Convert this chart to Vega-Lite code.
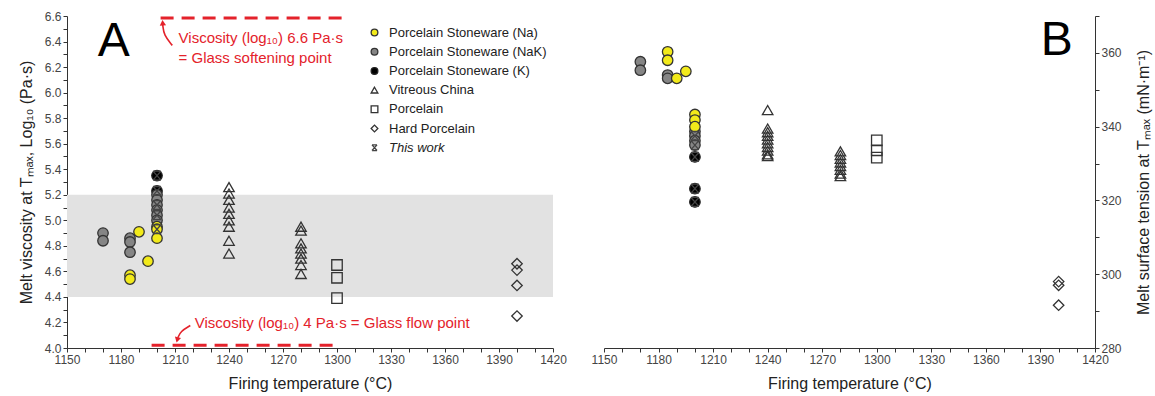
{
  "$schema": "https://vega.github.io/schema/vega-lite/v6.json",
  "padding": {"left": 18, "top": 10, "right": 2, "bottom": 5},
  "bounds": "flush",
  "spacing": 51,
  "background": "white",
  "config": {
    "view": {"stroke": null},
    "font": "Liberation Sans",
    "axis": {
      "grid": false,
      "labelFlush": false,
      "domainColor": "#333",
      "tickColor": "#333",
      "tickSize": 4,
      "labelColor": "#444",
      "labelFont": "Liberation Sans",
      "labelFontSize": 12,
      "titleFont": "Liberation Sans",
      "titleFontSize": 16,
      "titleFontWeight": "normal",
      "titleColor": "#222"
    }
  },
  "datasets": {
    "visc": [
      {"t": 1240, "v": 5.26, "type": "Vitreous China"},
      {"t": 1240, "v": 5.21, "type": "Vitreous China"},
      {"t": 1240, "v": 5.16, "type": "Vitreous China"},
      {"t": 1240, "v": 5.10, "type": "Vitreous China"},
      {"t": 1240, "v": 5.05, "type": "Vitreous China"},
      {"t": 1240, "v": 5.00, "type": "Vitreous China"},
      {"t": 1240, "v": 4.95, "type": "Vitreous China"},
      {"t": 1240, "v": 4.84, "type": "Vitreous China"},
      {"t": 1240, "v": 4.74, "type": "Vitreous China"},
      {"t": 1280, "v": 4.95, "type": "Vitreous China"},
      {"t": 1280, "v": 4.92, "type": "Vitreous China"},
      {"t": 1280, "v": 4.82, "type": "Vitreous China"},
      {"t": 1280, "v": 4.78, "type": "Vitreous China"},
      {"t": 1280, "v": 4.74, "type": "Vitreous China"},
      {"t": 1280, "v": 4.70, "type": "Vitreous China"},
      {"t": 1280, "v": 4.65, "type": "Vitreous China"},
      {"t": 1280, "v": 4.58, "type": "Vitreous China"},
      {"t": 1300, "v": 4.65, "type": "Porcelain"},
      {"t": 1300, "v": 4.55, "type": "Porcelain"},
      {"t": 1300, "v": 4.39, "type": "Porcelain"},
      {"t": 1400, "v": 4.66, "type": "Hard Porcelain"},
      {"t": 1400, "v": 4.61, "type": "Hard Porcelain"},
      {"t": 1400, "v": 4.49, "type": "Hard Porcelain"},
      {"t": 1400, "v": 4.25, "type": "Hard Porcelain"},
      {"t": 1185, "v": 4.57, "type": "Porcelain Stoneware (Na)"},
      {"t": 1185, "v": 4.54, "type": "Porcelain Stoneware (Na)"},
      {"t": 1170, "v": 4.90, "type": "Porcelain Stoneware (NaK)"},
      {"t": 1170, "v": 4.84, "type": "Porcelain Stoneware (NaK)"},
      {"t": 1185, "v": 4.86, "type": "Porcelain Stoneware (NaK)"},
      {"t": 1185, "v": 4.83, "type": "Porcelain Stoneware (NaK)"},
      {"t": 1185, "v": 4.75, "type": "Porcelain Stoneware (NaK)"},
      {"t": 1190, "v": 4.91, "type": "Porcelain Stoneware (Na)"},
      {"t": 1195, "v": 4.68, "type": "Porcelain Stoneware (Na)"},
      {"t": 1200, "v": 5.35, "type": "Porcelain Stoneware (K)"},
      {"t": 1200, "v": 5.23, "type": "Porcelain Stoneware (K)"},
      {"t": 1200, "v": 5.20, "type": "Porcelain Stoneware (NaK)"},
      {"t": 1200, "v": 5.16, "type": "Porcelain Stoneware (NaK)"},
      {"t": 1200, "v": 5.12, "type": "Porcelain Stoneware (NaK)"},
      {"t": 1200, "v": 5.08, "type": "Porcelain Stoneware (NaK)"},
      {"t": 1200, "v": 5.04, "type": "Porcelain Stoneware (NaK)"},
      {"t": 1200, "v": 5.00, "type": "Porcelain Stoneware (NaK)"},
      {"t": 1200, "v": 4.95, "type": "Porcelain Stoneware (Na)"},
      {"t": 1200, "v": 4.93, "type": "Porcelain Stoneware (Na)"},
      {"t": 1200, "v": 4.86, "type": "Porcelain Stoneware (Na)"},
      {"t": 1200, "v": 5.35, "type": "This work"},
      {"t": 1200, "v": 5.23, "type": "This work"},
      {"t": 1200, "v": 5.12, "type": "This work"},
      {"t": 1200, "v": 5.04, "type": "This work"},
      {"t": 1200, "v": 4.93, "type": "This work"}
    ],
    "surf": [
      {"t": 1240, "v": 344.5, "type": "Vitreous China"},
      {"t": 1240, "v": 339.5, "type": "Vitreous China"},
      {"t": 1240, "v": 338.5, "type": "Vitreous China"},
      {"t": 1240, "v": 337.5, "type": "Vitreous China"},
      {"t": 1240, "v": 336.5, "type": "Vitreous China"},
      {"t": 1240, "v": 335.5, "type": "Vitreous China"},
      {"t": 1240, "v": 334.5, "type": "Vitreous China"},
      {"t": 1240, "v": 333.5, "type": "Vitreous China"},
      {"t": 1240, "v": 332.5, "type": "Vitreous China"},
      {"t": 1240, "v": 332.0, "type": "Vitreous China"},
      {"t": 1280, "v": 333.3, "type": "Vitreous China"},
      {"t": 1280, "v": 332.3, "type": "Vitreous China"},
      {"t": 1280, "v": 331.3, "type": "Vitreous China"},
      {"t": 1280, "v": 330.3, "type": "Vitreous China"},
      {"t": 1280, "v": 329.3, "type": "Vitreous China"},
      {"t": 1280, "v": 328.3, "type": "Vitreous China"},
      {"t": 1280, "v": 327.3, "type": "Vitreous China"},
      {"t": 1280, "v": 326.6, "type": "Vitreous China"},
      {"t": 1300, "v": 336.3, "type": "Porcelain"},
      {"t": 1300, "v": 333.6, "type": "Porcelain"},
      {"t": 1300, "v": 331.6, "type": "Porcelain"},
      {"t": 1400, "v": 298.0, "type": "Hard Porcelain"},
      {"t": 1400, "v": 297.0, "type": "Hard Porcelain"},
      {"t": 1400, "v": 291.6, "type": "Hard Porcelain"},
      {"t": 1170, "v": 357.6, "type": "Porcelain Stoneware (NaK)"},
      {"t": 1170, "v": 355.3, "type": "Porcelain Stoneware (NaK)"},
      {"t": 1185, "v": 354.0, "type": "Porcelain Stoneware (NaK)"},
      {"t": 1185, "v": 353.1, "type": "Porcelain Stoneware (NaK)"},
      {"t": 1185, "v": 360.3, "type": "Porcelain Stoneware (Na)"},
      {"t": 1185, "v": 358.0, "type": "Porcelain Stoneware (Na)"},
      {"t": 1190, "v": 353.1, "type": "Porcelain Stoneware (Na)"},
      {"t": 1195, "v": 355.0, "type": "Porcelain Stoneware (Na)"},
      {"t": 1200, "v": 338.7, "type": "Porcelain Stoneware (NaK)"},
      {"t": 1200, "v": 337.5, "type": "Porcelain Stoneware (NaK)"},
      {"t": 1200, "v": 336.2, "type": "Porcelain Stoneware (NaK)"},
      {"t": 1200, "v": 335.0, "type": "Porcelain Stoneware (NaK)"},
      {"t": 1200, "v": 343.3, "type": "Porcelain Stoneware (Na)"},
      {"t": 1200, "v": 341.8, "type": "Porcelain Stoneware (Na)"},
      {"t": 1200, "v": 340.0, "type": "Porcelain Stoneware (Na)"},
      {"t": 1200, "v": 331.8, "type": "Porcelain Stoneware (K)"},
      {"t": 1200, "v": 323.2, "type": "Porcelain Stoneware (K)"},
      {"t": 1200, "v": 319.6, "type": "Porcelain Stoneware (K)"},
      {"t": 1200, "v": 337.5, "type": "This work"},
      {"t": 1200, "v": 335.0, "type": "This work"},
      {"t": 1200, "v": 331.8, "type": "This work"},
      {"t": 1200, "v": 323.2, "type": "This work"},
      {"t": 1200, "v": 319.6, "type": "This work"}
    ]
  },
  "resolve": {"scale": {"shape": "independent", "fill": "independent", "stroke": "independent"}, "legend": {"shape": "independent", "fill": "independent", "stroke": "independent"}},
  "hconcat": [
    {
      "width": 486,
      "height": 332,
      "encoding": {
        "x": {
          "field": "t", "type": "quantitative",
          "scale": {"domain": [1150, 1420], "nice": false, "zero": false},
          "axis": {
            "title": "Firing temperature (°C)",
            "values": [1150,1160,1170,1180,1190,1200,1210,1220,1230,1240,1250,1260,1270,1280,1290,1300,1310,1320,1330,1340,1350,1360,1370,1380,1390,1400,1410,1420],
            "labelExpr": "(datum.value - 1150) % 30 == 0 ? datum.value : ''",
            "titlePadding": 10
          }
        },
        "y": {
          "field": "v", "type": "quantitative",
          "scale": {"domain": [4.0, 6.6], "nice": false, "zero": false},
          "axis": {
            "title": "Melt viscosity at Tₘₐₓ, Log₁₀ (Pa·s)",
            "values": [4.0,4.1,4.2,4.3,4.4,4.5,4.6,4.7,4.8,4.9,5.0,5.1,5.2,5.3,5.4,5.5,5.6,5.7,5.8,5.9,6.0,6.1,6.2,6.3,6.4,6.5,6.6],
            "labelExpr": "round(datum.value * 10) % 2 == 0 ? format(datum.value, '.1f') : ''",
            "titlePadding": 10
          }
        }
      },
      "layer": [
        {
          "data": {"values": [{"t": 1150, "t2": 1420, "v": 4.4, "v2": 5.2}]},
          "mark": {"type": "rect", "fill": "#e2e2e2"},
          "encoding": {"x2": {"field": "t2"}, "y2": {"field": "v2"}}
        },
        {
          "data": {"values": [
            {"g": "top", "t": 1202, "v": 6.585},
            {"g": "top", "t": 1305, "v": 6.585},
            {"g": "bottom", "t": 1197, "v": 4.022},
            {"g": "bottom", "t": 1300, "v": 4.022}
          ]},
          "mark": {"type": "line", "color": "#e4222b", "strokeWidth": 3, "strokeDash": [13, 8]},
          "encoding": {"detail": {"field": "g"}}
        },
        {
          "data": {"values": [
            {"g": "a1", "o": 1, "t": 1208.5, "v": 6.37},
            {"g": "a1", "o": 2, "t": 1203.8, "v": 6.45},
            {"g": "a1", "o": 3, "t": 1203.2, "v": 6.53},
            {"g": "a2", "o": 1, "t": 1218.5, "v": 4.176},
            {"g": "a2", "o": 2, "t": 1213.0, "v": 4.13},
            {"g": "a2", "o": 3, "t": 1211.6, "v": 4.08}
          ]},
          "mark": {"type": "line", "color": "#e4222b", "strokeWidth": 1.6, "interpolate": "basis"},
          "encoding": {"detail": {"field": "g"}, "order": {"field": "o"}}
        },
        {
          "data": {"values": [
            {"t": 1203.2, "v": 6.54, "ang": -5},
            {"t": 1211.4, "v": 4.07, "ang": 195}
          ]},
          "mark": {"type": "point", "shape": "triangle", "filled": true, "color": "#e4222b", "size": 40, "opacity": 1},
          "encoding": {"angle": {"field": "ang", "type": "quantitative", "scale": null}}
        },
        {
          "data": {"values": [
            {"t": 1212, "v": 6.385, "label": "Viscosity (log₁₀) 6.6 Pa·s"},
            {"t": 1212, "v": 6.235, "label": "= Glass softening point"},
            {"t": 1221, "v": 4.153, "label": "Viscosity (log₁₀) 4 Pa·s = Glass flow point"}
          ]},
          "mark": {"type": "text", "align": "left", "baseline": "alphabetic", "color": "#e4222b", "font": "Liberation Sans", "fontSize": 15},
          "encoding": {"text": {"field": "label"}}
        },
        {
          "data": {"values": [{"t": 1176, "v": 6.29, "label": "A"}]},
          "mark": {"type": "text", "align": "center", "baseline": "alphabetic", "color": "#000", "font": "Liberation Sans", "fontSize": 48},
          "encoding": {"text": {"field": "label"}}
        },
        {
          "data": {"name": "visc"},
          "mark": {"type": "point", "filled": false, "size": 110, "strokeWidth": 1.3, "opacity": 1},
          "encoding": {
            "shape": {
              "field": "type", "type": "nominal",
              "scale": {
                "domain": ["Porcelain Stoneware (Na)", "Porcelain Stoneware (NaK)", "Porcelain Stoneware (K)", "Vitreous China", "Porcelain", "Hard Porcelain", "This work"],
                "range": ["circle", "circle", "circle", "triangle-up", "square", "diamond", "M-0.75,-0.85L0.75,0.85M-0.75,0.85L0.75,-0.85M-0.75,-0.85L0.75,-0.85M-0.75,0.85L0.75,0.85"]
              },
              "legend": {
                "title": null, "orient": "none", "legendX": 301, "legendY": 10,
                "labelFontSize": 13, "labelColor": "#222", "labelFont": "Liberation Sans",
                "labelFontStyle": {"expr": "datum.label == 'This work' ? 'italic' : 'normal'"},
                "symbolSize": 45, "symbolStrokeWidth": 1.3,
                "rowPadding": 5.2, "labelOffset": 8, "padding": 0
              }
            },
            "fill": {
              "field": "type", "type": "nominal",
              "scale": {
                "domain": ["Porcelain Stoneware (Na)", "Porcelain Stoneware (NaK)", "Porcelain Stoneware (K)", "Vitreous China", "Porcelain", "Hard Porcelain", "This work"],
                "range": ["#f2ea1a", "#858585", "#000000", "transparent", "transparent", "transparent", "transparent"]
              },
              "legend": {
                "title": null, "orient": "none", "legendX": 301, "legendY": 10,
                "labelFontSize": 13, "labelColor": "#222", "labelFont": "Liberation Sans",
                "labelFontStyle": {"expr": "datum.label == 'This work' ? 'italic' : 'normal'"},
                "symbolSize": 45, "symbolStrokeWidth": 1.3,
                "rowPadding": 5.2, "labelOffset": 8, "padding": 0
              }
            },
            "stroke": {
              "field": "type", "type": "nominal",
              "scale": {
                "domain": ["Porcelain Stoneware (Na)", "Porcelain Stoneware (NaK)", "Porcelain Stoneware (K)", "Vitreous China", "Porcelain", "Hard Porcelain", "This work"],
                "range": ["#333333", "#333333", "#222222", "#333333", "#333333", "#333333", "#444444"]
              },
              "legend": {
                "title": null, "orient": "none", "legendX": 301, "legendY": 10,
                "labelFontSize": 13, "labelColor": "#222", "labelFont": "Liberation Sans",
                "labelFontStyle": {"expr": "datum.label == 'This work' ? 'italic' : 'normal'"},
                "symbolSize": 45, "symbolStrokeWidth": 1.3,
                "rowPadding": 5.2, "labelOffset": 8, "padding": 0
              }
            }
          }
        }
      ]
    },
    {
      "width": 491,
      "height": 332,
      "encoding": {
        "x": {
          "field": "t", "type": "quantitative",
          "scale": {"domain": [1150, 1420], "nice": false, "zero": false},
          "axis": {
            "title": "Firing temperature (°C)",
            "values": [1150,1160,1170,1180,1190,1200,1210,1220,1230,1240,1250,1260,1270,1280,1290,1300,1310,1320,1330,1340,1350,1360,1370,1380,1390,1400,1410,1420],
            "labelExpr": "(datum.value - 1150) % 30 == 0 ? datum.value : ''",
            "titlePadding": 10
          }
        },
        "y": {
          "field": "v", "type": "quantitative",
          "scale": {"domain": [280, 370], "nice": false, "zero": false},
          "axis": {
            "orient": "right",
            "title": "Melt surface tension at Tₘₐₓ (mN·m⁻¹)",
            "titleAngle": 270,
            "titleBaseline": "top",
            "values": [280, 290, 300, 310, 320, 330, 340, 350, 360, 370],
            "labelExpr": "datum.value % 20 == 0 ? datum.value : ''",
            "titlePadding": 14
          }
        }
      },
      "layer": [
        {
          "data": {"values": [{"t": 1399, "v": 359.3, "label": "B"}]},
          "mark": {"type": "text", "align": "center", "baseline": "alphabetic", "color": "#000", "font": "Liberation Sans", "fontSize": 48},
          "encoding": {"text": {"field": "label"}}
        },
        {
          "data": {"name": "surf"},
          "mark": {"type": "point", "filled": false, "size": 110, "strokeWidth": 1.3, "opacity": 1},
          "encoding": {
            "shape": {
              "field": "type", "type": "nominal",
              "scale": {
                "domain": ["Porcelain Stoneware (Na)", "Porcelain Stoneware (NaK)", "Porcelain Stoneware (K)", "Vitreous China", "Porcelain", "Hard Porcelain", "This work"],
                "range": ["circle", "circle", "circle", "triangle-up", "square", "diamond", "M-0.75,-0.85L0.75,0.85M-0.75,0.85L0.75,-0.85M-0.75,-0.85L0.75,-0.85M-0.75,0.85L0.75,0.85"]
              },
              "legend": null
            },
            "fill": {
              "field": "type", "type": "nominal",
              "scale": {
                "domain": ["Porcelain Stoneware (Na)", "Porcelain Stoneware (NaK)", "Porcelain Stoneware (K)", "Vitreous China", "Porcelain", "Hard Porcelain", "This work"],
                "range": ["#f2ea1a", "#858585", "#000000", "transparent", "transparent", "transparent", "transparent"]
              },
              "legend": null
            },
            "stroke": {
              "field": "type", "type": "nominal",
              "scale": {
                "domain": ["Porcelain Stoneware (Na)", "Porcelain Stoneware (NaK)", "Porcelain Stoneware (K)", "Vitreous China", "Porcelain", "Hard Porcelain", "This work"],
                "range": ["#333333", "#333333", "#222222", "#333333", "#333333", "#333333", "#444444"]
              },
              "legend": null
            }
          }
        }
      ]
    }
  ]
}
